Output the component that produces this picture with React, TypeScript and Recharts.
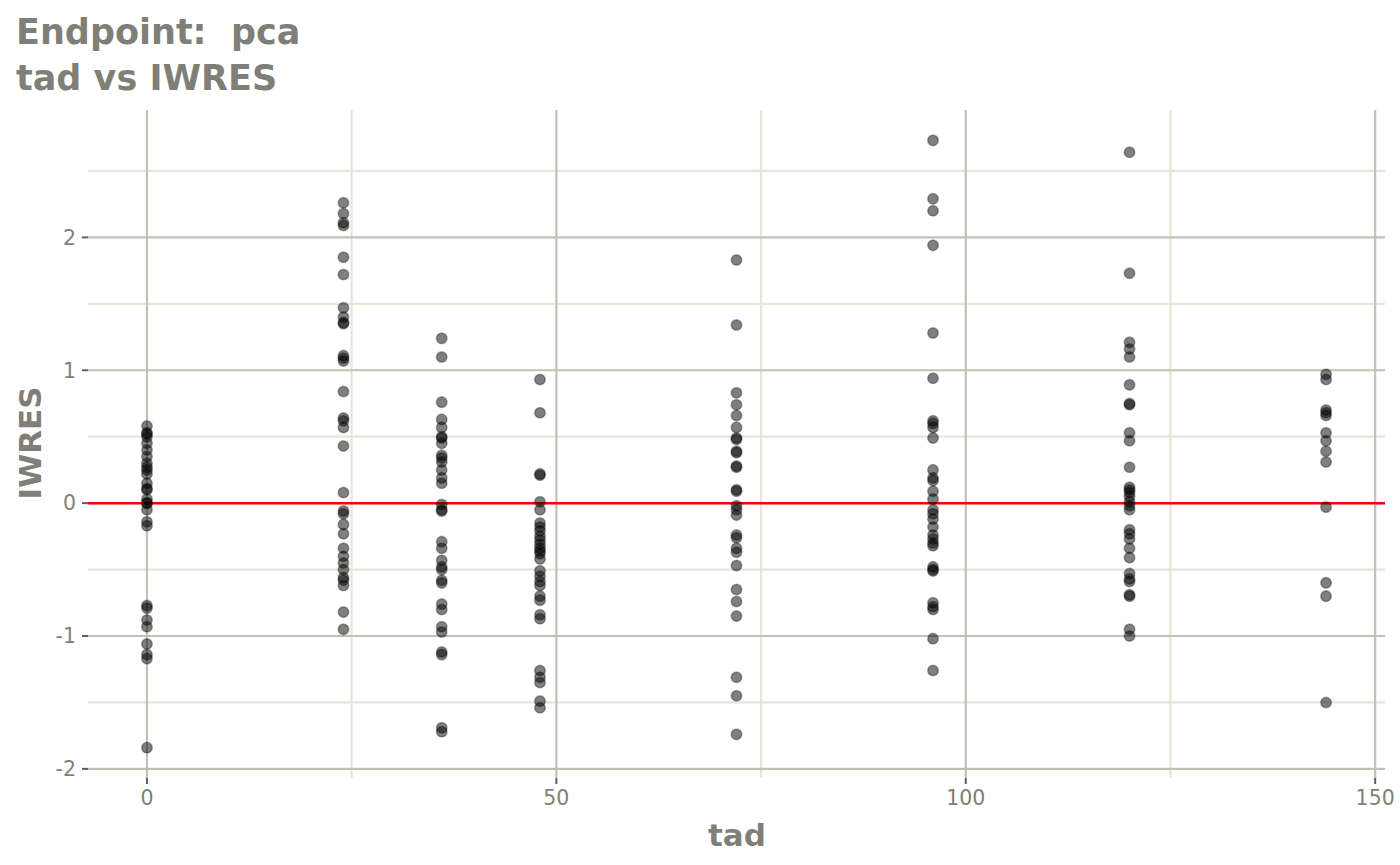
import { ReferenceLine, Scatter, ScatterChart, XAxis, YAxis } from 'recharts';

// time after dose values (one column of points per time)
const tadTimes = [0, 24, 36, 48, 72, 96, 120, 144];

// IWRES, top to bottom
const iwres0 = [0.58, 0.53, 0.5, 0.52, 0.45, 0.4, 0.35, 0.3, 0.27, 0.25, 0.22, 0.15, 0.11, 0.1, 0.03, 0.0, 0.0, -0.05, -0.14, -0.17, -0.77, -0.79, -0.88, -0.93, -1.06, -1.14, -1.17, -1.84];
const iwres24 = [2.26, 2.18, 2.11, 2.09, 1.85, 1.72, 1.47, 1.4, 1.36, 1.35, 1.11, 1.09, 1.07, 0.84, 0.64, 0.62, 0.57, 0.43, 0.08, -0.06, -0.08, -0.16, -0.23, -0.34, -0.4, -0.45, -0.5, -0.56, -0.58, -0.62, -0.82, -0.95];
const iwres36 = [1.24, 1.1, 0.76, 0.63, 0.57, 0.5, 0.49, 0.45, 0.36, 0.34, 0.31, 0.25, 0.19, 0.15, -0.01, -0.05, -0.06, -0.29, -0.34, -0.43, -0.48, -0.5, -0.58, -0.6, -0.76, -0.8, -0.93, -0.97, -1.12, -1.14, -1.69, -1.72];
const iwres48 = [0.93, 0.68, 0.22, 0.21, 0.01, -0.05, -0.15, -0.18, -0.21, -0.25, -0.28, -0.31, -0.34, -0.36, -0.38, -0.42, -0.51, -0.55, -0.59, -0.62, -0.7, -0.73, -0.84, -0.87, -1.26, -1.31, -1.35, -1.49, -1.54];
const iwres72 = [1.83, 1.34, 0.83, 0.74, 0.66, 0.57, 0.49, 0.48, 0.39, 0.38, 0.28, 0.27, 0.1, 0.09, -0.02, -0.05, -0.09, -0.24, -0.26, -0.34, -0.37, -0.47, -0.65, -0.74, -0.85, -1.31, -1.45, -1.74];
const iwres96 = [2.73, 2.29, 2.2, 1.94, 1.28, 0.94, 0.62, 0.6, 0.57, 0.49, 0.25, 0.19, 0.17, 0.09, 0.03, -0.05, -0.08, -0.12, -0.18, -0.24, -0.27, -0.3, -0.32, -0.48, -0.5, -0.51, -0.75, -0.78, -0.8, -1.02, -1.26];
const iwres120 = [2.64, 1.73, 1.21, 1.16, 1.1, 0.89, 0.75, 0.74, 0.53, 0.47, 0.27, 0.12, 0.1, 0.08, 0.05, 0.01, -0.02, -0.05, -0.2, -0.23, -0.27, -0.34, -0.41, -0.53, -0.57, -0.59, -0.69, -0.7, -0.95, -1.0];
const iwres144 = [0.97, 0.93, 0.7, 0.68, 0.66, 0.53, 0.47, 0.39, 0.31, -0.03, -0.6, -0.7, -1.5];

const columns = [iwres0, iwres24, iwres36, iwres48, iwres72, iwres96, iwres120, iwres144];

const xTicks = [0, 50, 100, 150];
const xMinor = [25, 75, 125];
const yTicks = [-2, -1, 0, 1, 2];
const yMinor = [-1.5, -0.5, 0.5, 1.5, 2.5];

const points = columns.flatMap((col, i) =>
    col.map((v) => ({ tad: tadTimes[i], iwres: v }))
);

const textGrey = '#7f7f77';
const majorGrid = '#c2c2b4';
const minorGrid = '#e6e6d8';

const Dot = (props: any) => {
    const { cx, cy } = props;
    if (cx == null || cy == null) return null;
    return (
        <circle
            cx={cx}
            cy={cy}
            r={5.3}
            fill="#000"
            fillOpacity={0.5}
            stroke="#000"
            strokeOpacity={0.3}
            strokeWidth={1.5}
        />
    );
};

export default function App() {
    return (
        <div
            style={{
                position: 'absolute',
                left: 0,
                top: 0,
                width: 1400,
                height: 865,
                background: '#fff',
                fontFamily: 'DejaVu Sans',
            }}
        >
            <ScatterChart
                width={1400}
                height={865}
                margin={{ top: 110, right: 15, bottom: 47, left: 28 }}
            >
                <XAxis
                    type="number"
                    dataKey="tad"
                    domain={[-7.2, 151.2]}
                    ticks={xTicks}
                    allowDataOverflow
                    axisLine={false}
                    tickLine={{ stroke: '#5e5e5e', strokeWidth: 2 }}
                    tickSize={6}
                    tickMargin={6}
                    height={40}
                    tick={{ fill: textGrey, fontSize: 20.5, fontFamily: 'DejaVu Sans' }}
                />
                <YAxis
                    type="number"
                    dataKey="iwres"
                    domain={[-2.0685, 2.9585]}
                    ticks={yTicks}
                    allowDataOverflow
                    axisLine={false}
                    tickLine={{ stroke: '#5e5e5e', strokeWidth: 2 }}
                    tickSize={6}
                    tickMargin={6}
                    width={60}
                    tick={{ fill: textGrey, fontSize: 20.5, fontFamily: 'DejaVu Sans' }}
                />
                {yMinor.map((v) => (
                    <ReferenceLine key={`ym${v}`} y={v} stroke={minorGrid} strokeWidth={2.2} />
                ))}
                {xMinor.map((v) => (
                    <ReferenceLine key={`xm${v}`} x={v} stroke={minorGrid} strokeWidth={2.2} />
                ))}
                {yTicks.map((v) => (
                    <ReferenceLine key={`y${v}`} y={v} stroke={majorGrid} strokeWidth={2.2} />
                ))}
                {xTicks.map((v) => (
                    <ReferenceLine key={`x${v}`} x={v} stroke={majorGrid} strokeWidth={2.2} />
                ))}
                <ReferenceLine y={0} stroke="#ff0000" strokeWidth={2.5} />
                <Scatter data={points} shape={Dot} isAnimationActive={false} />
            </ScatterChart>
            <svg
                width={1400}
                height={865}
                style={{ position: 'absolute', left: 0, top: 0, pointerEvents: 'none' }}
            >
                <g fill={textGrey} fontFamily="DejaVu Sans" fontWeight="bold">
                    <text x={16} y={44} fontSize={35} style={{ whiteSpace: 'pre' }}>
                        Endpoint:  pca
                    </text>
                    <text x={16} y={90} fontSize={35}>
                        tad vs IWRES
                    </text>
                    <text x={737} y={846} fontSize={31} textAnchor="middle">
                        tad
                    </text>
                    <text
                        x={41}
                        y={443}
                        fontSize={31}
                        textAnchor="middle"
                        transform="rotate(-90 41 443)"
                    >
                        IWRES
                    </text>
                </g>
            </svg>
        </div>
    );
}
